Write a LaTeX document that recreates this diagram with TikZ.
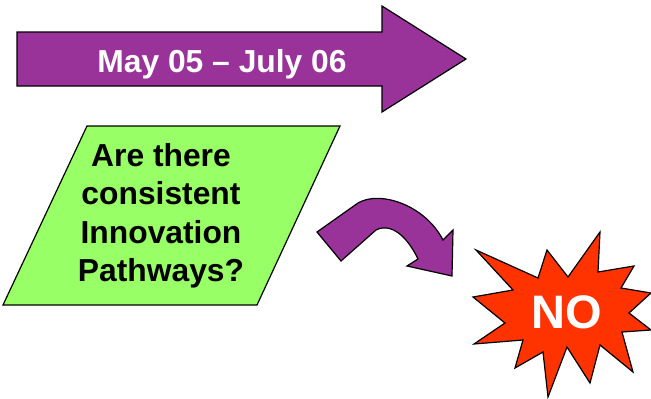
\documentclass[tikz,border=0pt]{standalone}
\usepackage{fontspec}
\setmainfont{Liberation Sans}
\usetikzlibrary{positioning}
\definecolor{plum}{RGB}{153,51,153}
\definecolor{lime}{RGB}{153,255,102}
\definecolor{flame}{RGB}{255,51,0}
\tikzset{
block shape/.style = {draw = black, line width = 1.2pt, line join = miter},
big text/.style = {font = \bfseries\fontsize{31.8}{38.5}\selectfont, align = center, inner sep = 0pt},
}

\begin{document}
\begin{tikzpicture}[x = 1pt, y = -1pt]
    \useasboundingbox (0, 0) rectangle (651, 399);
    % timeline arrow
    \path[block shape, fill = plum] (17, 32) -- (382, 32) -- (382, 6) -- (466, 59) -- (382, 112) -- (382, 86) -- (17, 86) -- cycle;
    \node[big text, white, anchor = base] (period) at (222, 72) {May 05 -- July 06};
    % question box
    \path[block shape, fill = lime] (87, 126) -- (340, 126) -- (257, 305) -- (3, 305) -- cycle;
    \node[big text, black, anchor = north] (question) at (161, 143) {Are there\\consistent\\Innovation\\Pathways?};
    % bent arrow
    \path[block shape, fill = plum] (317, 232) -- (358, 203) .. controls (380, 190) and (425, 205) .. (443, 240) -- (453, 230) -- (452, 276) -- (407, 266) -- (418, 259) .. controls (408, 238) and (392, 222) .. (376, 230) -- (341, 261) -- cycle;
    % answer burst
    \path[block shape, fill = flame] (476, 250) -- (538, 278) -- (547, 250) -- (568, 277) -- (600, 232) -- (598, 272) -- (634, 266) -- (621, 288) -- (651, 293) -- (629, 313) -- (651, 330) -- (622, 332) -- (633, 372) -- (600, 345) -- (590, 383) -- (567, 347) -- (548, 397) -- (543, 352) -- (515, 368) -- (523, 340) -- (474, 344) -- (505, 323) -- (473, 297) -- (513, 290) -- cycle;
    \node[big text, white, font = \bfseries\fontsize{47}{50}\selectfont, anchor = base] (answer) at (567, 328) {NO};
\end{tikzpicture}
\end{document}
